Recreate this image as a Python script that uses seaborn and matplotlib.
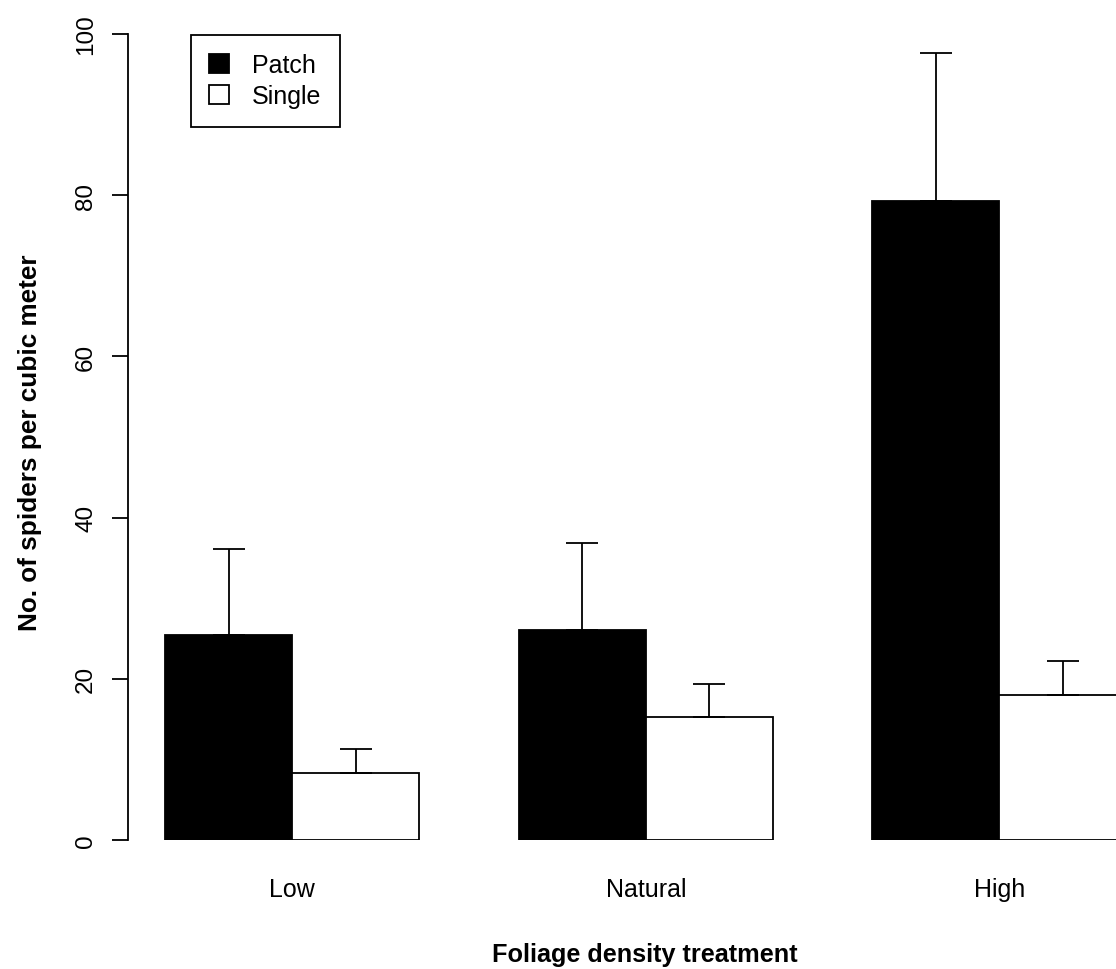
import matplotlib
matplotlib.use("Agg")
import matplotlib.pyplot as plt
from matplotlib.patches import Patch
import numpy as np
import pandas as pd
import seaborn as sns

# Mean spider density per treatment and its standard error
categories = ["Low", "Natural", "High"]
groups = ["Patch", "Single"]
patch_mean = [25.4, 26.0, 79.3]
patch_se = [10.7, 10.8, 18.3]
single_mean = [8.3, 15.3, 18.0]
single_se = [3.0, 4.0, 4.2]
y_ticks = [0, 20, 40, 60, 80, 100]

sns.set_style("white")
plt.rcParams["font.family"] = ["Liberation Sans", "DejaVu Sans"]
for key in ["text.color", "axes.labelcolor", "xtick.color", "ytick.color"]:
    plt.rcParams[key] = "black"

df = pd.DataFrame({
    "treatment": categories * 2,
    "type": ["Patch"] * 3 + ["Single"] * 3,
    "value": patch_mean + single_mean,
})

fig = plt.figure(figsize=(11.16, 9.70), dpi=100)
ax = fig.add_axes([0.1144, 0.1330, 0.8856, 0.8309])

colors = {"Patch": "black", "Single": "white"}
sns.barplot(data=df, x="treatment", y="value", hue="type",
            order=categories, hue_order=groups, palette=colors,
            saturation=1, edgecolor="black", linewidth=1.3,
            width=0.718, gap=0, errorbar=None, legend=False, ax=ax)

# Upper-only error bars at each bar centre
for container, se in zip(ax.containers, [patch_se, single_se]):
    xs = [b.get_x() + b.get_width() / 2 for b in container]
    hs = [b.get_height() for b in container]
    ax.errorbar(xs, hs, yerr=[np.zeros(len(se)), se], fmt="none",
                ecolor="black", elinewidth=1.3, capsize=11.5,
                capthick=1.3, zorder=1)

ax.set_xlim(-0.4656, 2.330)
ax.set_ylim(0, 100)
ax.set_yticks(y_ticks)
ax.set_yticklabels([str(t) for t in y_ticks], rotation=90, va="center")

for side in ["top", "right", "bottom"]:
    ax.spines[side].set_visible(False)
ax.spines["left"].set_bounds(0, 100)
ax.spines["left"].set_linewidth(1.3)
ax.spines["left"].set_color("black")

ax.tick_params(axis="y", direction="out", length=11.5, width=1.3,
               colors="black", labelsize=17.5, pad=10.5, left=True)
ax.tick_params(axis="x", length=0, labelsize=18, pad=27, colors="black")

ax.set_xlabel("Foliage density treatment", fontsize=18.2, fontweight="bold")
ax.xaxis.set_label_coords(0.5234, -0.1415)
ax.xaxis.label.set_va("center")
ax.set_ylabel("No. of spiders per cubic meter", fontsize=18.8,
              fontweight="bold")
ax.yaxis.set_label_coords(-0.0989, 0.4938)
ax.yaxis.label.set_va("center")

handles = [Patch(facecolor=colors[g], edgecolor="black", linewidth=1.3)
           for g in groups]
leg = fig.legend(handles, groups, loc="upper left",
                 bbox_to_anchor=(190.7 / 1116, 1 - 35.7 / 970),
                 bbox_transform=fig.transFigure, borderaxespad=0,
                 fontsize=18, frameon=True, fancybox=False,
                 framealpha=1, edgecolor="black", borderpad=0.75,
                 handlelength=0.8, handleheight=0.8,
                 handletextpad=0.9, labelspacing=0.28)
leg.get_frame().set_linewidth(1.3)

fig.savefig("out.png", dpi=100, facecolor="white")
